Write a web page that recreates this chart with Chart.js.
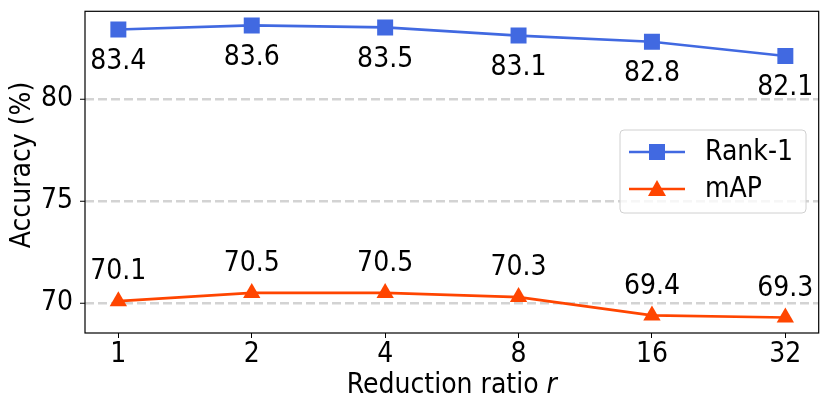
<!DOCTYPE html>
<html>
<head>
<meta charset="utf-8">
<script src="https://cdn.jsdelivr.net/npm/chart.js@4.4.0/dist/chart.umd.min.js"></script>
<style>
  html, body { margin: 0; padding: 0; background: #fff; }
  #wrap { width: 830px; height: 410px; }
</style>
</head>
<body>
<div id="wrap"><canvas id="myChart" width="830" height="410"></canvas></div>
<script>
// data
var ratios = ["1", "2", "4", "8", "16", "32"];
var rank1 = [83.4, 83.6, 83.5, 83.1, 82.8, 82.1];
var mapVals = [70.1, 70.5, 70.5, 70.3, 69.4, 69.3];
var yTicks = [70, 75, 80];

var blue = "#4169E1";
var red = "#FF4500";
var font = "'DejaVu Sans Condensed', 'DejaVu Sans'";
var fsize = 28;

function pts(vals) {
  return vals.map(function (v, i) { return { x: i, y: v }; });
}

var extras = {
  id: "extras",
  afterDatasetsDraw: function (chart) {
    var ctx = chart.ctx;
    var a = chart.chartArea;
    var xs = chart.scales.x, ys = chart.scales.y;
    ctx.save();
    // value labels
    ctx.fillStyle = "#000";
    ctx.font = fsize + "px " + font;
    ctx.textAlign = "center";
    ctx.textBaseline = "middle";
    rank1.forEach(function (v, i) {
      ctx.fillText(v.toFixed(1), xs.getPixelForValue(i), ys.getPixelForValue(v) + 32);
    });
    mapVals.forEach(function (v, i) {
      ctx.fillText(v.toFixed(1), xs.getPixelForValue(i), ys.getPixelForValue(v) - 29);
    });

    // frame
    ctx.strokeStyle = "#000";
    ctx.lineWidth = 1.2;
    ctx.strokeRect(a.left, a.top, a.right - a.left, a.bottom - a.top);

    // legend
    var lx = 620, ly = 130, lw = 186, lh = 83;
    ctx.fillStyle = "rgba(255,255,255,0.8)";
    ctx.strokeStyle = "#d0d0d0";
    ctx.lineWidth = 1;
    ctx.beginPath();
    ctx.roundRect(lx, ly, lw, lh, 4);
    ctx.fill();
    ctx.stroke();

    var rows = [{ label: "Rank-1", color: blue, shape: "sq", y: ly + 22 },
                { label: "mAP", color: red, shape: "tri", y: ly + 59 }];
    rows.forEach(function (r) {
      ctx.strokeStyle = r.color;
      ctx.lineWidth = 2.7;
      ctx.beginPath();
      ctx.moveTo(lx + 9, r.y);
      ctx.lineTo(lx + 65, r.y);
      ctx.stroke();
      ctx.fillStyle = r.color;
      var cx = lx + 37;
      if (r.shape === "sq") {
        ctx.fillRect(cx - 8, r.y - 8, 16, 16);
      } else {
        ctx.beginPath();
        ctx.moveTo(cx, r.y - 9);
        ctx.lineTo(cx + 9, r.y + 7);
        ctx.lineTo(cx - 9, r.y + 7);
        ctx.closePath();
        ctx.fill();
      }
      ctx.fillStyle = "#000";
      ctx.font = fsize + "px " + font;
      ctx.textAlign = "left";
      ctx.textBaseline = "middle";
      ctx.fillText(r.label, lx + 85, r.y + 1);
    });

    // x title with italic r
    ctx.font = fsize + "px " + font;
    var t1 = "Reduction ratio ";
    var w1 = ctx.measureText(t1).width;
    ctx.font = "italic " + fsize + "px " + font;
    var w2 = ctx.measureText("r").width;
    var sx = (a.left + a.right) / 2 - (w1 + w2) / 2;
    ctx.textAlign = "left";
    ctx.textBaseline = "alphabetic";
    ctx.font = fsize + "px " + font;
    ctx.fillText(t1, sx, 393);
    ctx.font = "italic " + fsize + "px " + font;
    ctx.fillText("r", sx + w1, 393);

    // y title
    ctx.font = fsize + "px " + font;
    ctx.translate(23, 165);
    ctx.rotate(-Math.PI / 2);
    ctx.textAlign = "center";
    ctx.textBaseline = "middle";
    ctx.fillText("Accuracy (%)", 0, 0);
    ctx.restore();
  }
};

new Chart("myChart", {
  type: "line",
  data: {
    datasets: [{
      label: "Rank-1",
      data: pts(rank1),
      borderColor: blue,
      backgroundColor: blue,
      borderWidth: 2.7,
      pointStyle: "rect",
      pointRadius: 11.3,
      pointHoverRadius: 11.3,
      pointBorderWidth: 0
    }, {
      label: "mAP",
      data: pts(mapVals),
      borderColor: red,
      backgroundColor: red,
      borderWidth: 2.7,
      pointStyle: "triangle",
      pointRadius: 10,
      pointHoverRadius: 10,
      pointBorderWidth: 0
    }]
  },
  options: {
    responsive: false,
    animation: false,
    layout: { padding: { left: 0, right: 11, top: 10, bottom: 0 } },
    plugins: { legend: { display: false }, tooltip: { enabled: false } },
    scales: {
      x: {
        type: "linear",
        min: -0.25,
        max: 5.25,
        afterBuildTicks: function (s) {
          s.ticks = ratios.map(function (r, i) { return { value: i }; });
        },
        ticks: {
          color: "#000",
          font: { family: font, size: fsize },
          padding: 0,
          callback: function (v) { return ratios[v]; }
        },
        grid: { drawOnChartArea: false, drawTicks: true, tickLength: 5, color: "#000" },
        border: { display: false },
        afterFit: function (s) { s.height = 77; s.paddingLeft = 0; s.paddingRight = 0; }
      },
      y: {
        min: 68.54,
        max: 84.29,
        afterBuildTicks: function (s) {
          s.ticks = yTicks.map(function (v) { return { value: v }; });
        },
        ticks: {
          color: "#000",
          font: { family: font, size: fsize },
          padding: 7
        },
        grid: {
          drawTicks: true,
          tickLength: 5,
          tickColor: "#000",
          tickWidth: 1,
          color: "#d3d3d3",
          lineWidth: 2.5
        },
        border: { display: false, dash: [9, 4] },
        afterFit: function (s) { s.width = 85; s.paddingTop = 0; s.paddingBottom = 0; }
      }
    }
  },
  plugins: [extras]
});
</script>
</body>
</html>
